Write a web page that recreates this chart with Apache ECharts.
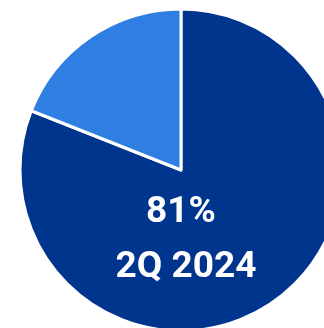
<!DOCTYPE html>
<html><head><meta charset="utf-8">
<script src="https://cdn.jsdelivr.net/npm/echarts@6/dist/echarts.min.js"></script>
<style>html,body{margin:0;padding:0;background:#fff}#c{width:324px;height:328px}</style>
</head><body><div id="c"></div>
<script>
const categories = ['Share', 'Other'];
const values = [81, 19];
const centerLabel = '81%';
const periodLabel = '2Q 2024';
const colors = ['#00358E', '#2F7FE2'];

const chart = echarts.init(document.getElementById('c'), null, {renderer: 'canvas'});
chart.setOption({
  animation: false,
  series: [{
    type: 'pie',
    center: [181, 170],
    radius: [0, 161],
    startAngle: 90,
    clockwise: true,
    label: {show: false},
    labelLine: {show: false},
    itemStyle: {borderColor: '#fff', borderWidth: 3},
    emphasis: {disabled: true},
    data: categories.map((c, i) => ({name: c, value: values[i], itemStyle: {color: colors[i]}}))
  }],
  graphic: {
    elements: [
      {type: 'text', z: 100, x: 181, y: 213, style: {text: centerLabel, fill: '#fff', fontFamily: 'Roboto', fontWeight: 'bold', fontSize: 37, align: 'center', verticalAlign: 'middle'}},
      {type: 'text', z: 100, x: 186, y: 268, style: {text: periodLabel, fill: '#fff', fontFamily: 'Roboto', fontWeight: 'bold', fontSize: 37, align: 'center', verticalAlign: 'middle'}}
    ]
  }
});
</script></body></html>
